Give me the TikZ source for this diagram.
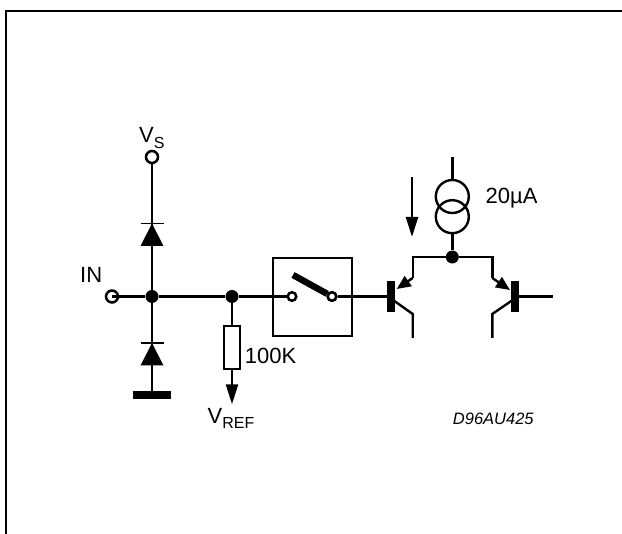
\documentclass[tikz,border=0pt]{standalone}
\usepackage{fontspec}
\setmainfont{Liberation Sans}
\usetikzlibrary{arrows.meta}
\newcommand{\lab}{\fontsize{22}{22}\selectfont}
\newcommand{\sublab}[1]{\raisebox{-5.6pt}{\fontsize{16}{16}\selectfont #1}}
\tikzset{
  wire/.style={line width=2.4pt},
  dot/.style={circle,fill=black,inner sep=0pt,minimum size=13pt},
  term/.style={circle,draw,fill=white,line width=2.5pt,inner sep=0pt,minimum size=12pt},
  contact/.style={term,minimum size=8.5pt},
  lab/.style={inner sep=0pt,font=\lab,anchor=base west},
  bar/.style={fill=black,inner sep=0pt,minimum width=8pt,minimum height=30.5pt},
  source/.style={circle,draw,line width=2.4pt,minimum size=33pt,inner sep=0pt},
  to tip/.style={-{Triangle[length=20pt,width=12pt]}},
  emit tip/.style={-{Triangle[length=14pt,width=12pt]}}
}
\begin{document}
\begin{tikzpicture}[x=1pt,y=-1pt]
\useasboundingbox (0,0) rectangle (622,534);
\draw[line width=2pt] (5.5,534) |- (622,11);
% input side
\node[term] (in) at (112,296.5) {};
\node[dot] (j1) at (152,296.5) {};
\node[dot] (j2) at (232,296.5) {};
\node[term] (vs) at (152,157) {};
\node[lab] (inlab) at (80,282.7) {IN};
\node[lab] (vslab) at (139,142.7) {V\sublab{S}};
\node[fill=black,inner sep=0pt,minimum width=38pt,minimum height=8pt] (gnd) at (152,395) {};
\draw[wire] (in.center) -- (j1);
\draw[wire] (j1) -- (j2);
\draw[wire] (vs) -- (j1);
\draw[wire] (j1) -- (gnd);
% diodes
\coordinate (d1) at (152,223.5);
\coordinate (d2) at (152,343);
\foreach \d in {d1,d2} {
  \fill (\d) -- ++(11.5,22.5) -- ++(-23,0) -- cycle;
  \draw[line width=1.8pt] (\d) ++(-11.5,0) -- ++(23,0);
}
% resistor
\node[draw,line width=2.4pt,fill=white,minimum width=15.5pt,minimum height=43pt,inner sep=0pt] (res) at (232,347.5) {};
\node[inner sep=0pt] (vref) at (232,405) {};
\node[lab] (rlab) at (244.7,364) {100K};
\node[lab] (vreflab) at (207.5,423.3) {V\sublab{REF}};
\draw[wire] (j2) -- (res);
\draw[wire,to tip] (res) -- (vref);
% switch
\node[draw,line width=2.4pt,minimum width=79pt,minimum height=78pt,inner sep=0pt] (sw) at (312.5,297) {};
\node[contact] (c1) at (292,296.5) {};
\node[contact] (c2) at (332,296.5) {};
\coordinate (blade) at (293,275);
\draw[wire] (j2) -- (c1);
\draw[line width=6.5pt] (blade) -- (c2);
\node[contact] at (c2) {};
% transistors
\node[bar] (b1) at (390.7,296.5) {};
\node[bar] (b2) at (514.7,296.5) {};
\node[dot] (j3) at (452.3,257) {};
\coordinate (e1) at (412.7,278);
\coordinate (c1low) at (412.7,314);
\coordinate (e2) at (492.3,278);
\coordinate (c2low) at (492.3,314);
\coordinate (out) at (553,296.5);
\draw[wire] (c2) -- (b1);
\draw[wire] (b2) -- (out);
\draw[wire] (e1) |- (j3);
\draw[wire] (e2) |- (j3);
\draw[wire,emit tip] (e1) -- (396.7,289);
\draw[wire,emit tip] (e2) -- (510,290);
\draw[wire] (393,300) -- (c1low) -- ++(0,24);
\draw[wire] (511.7,300.7) -- (c2low) -- ++(0,24);
% current source
\node[source] (s1) at (452.3,196.5) {};
\node[source] (s2) at (452.3,216.7) {};
\coordinate (top) at (452.3,157);
\coordinate (a1) at (412,177);
\coordinate (a2) at (412,237);
\node[lab] (ilab) at (485.5,203.3) {20µA};
\draw[wire] (top) -- (s1);
\draw[wire] (s2) -- (j3);
\draw[wire,to tip] (a1) -- (a2);
\node[font=\fontsize{16.5}{16.5}\selectfont\itshape,inner sep=0pt] (code) at (493.3,419) {D96AU425};
\end{tikzpicture}
\end{document}
